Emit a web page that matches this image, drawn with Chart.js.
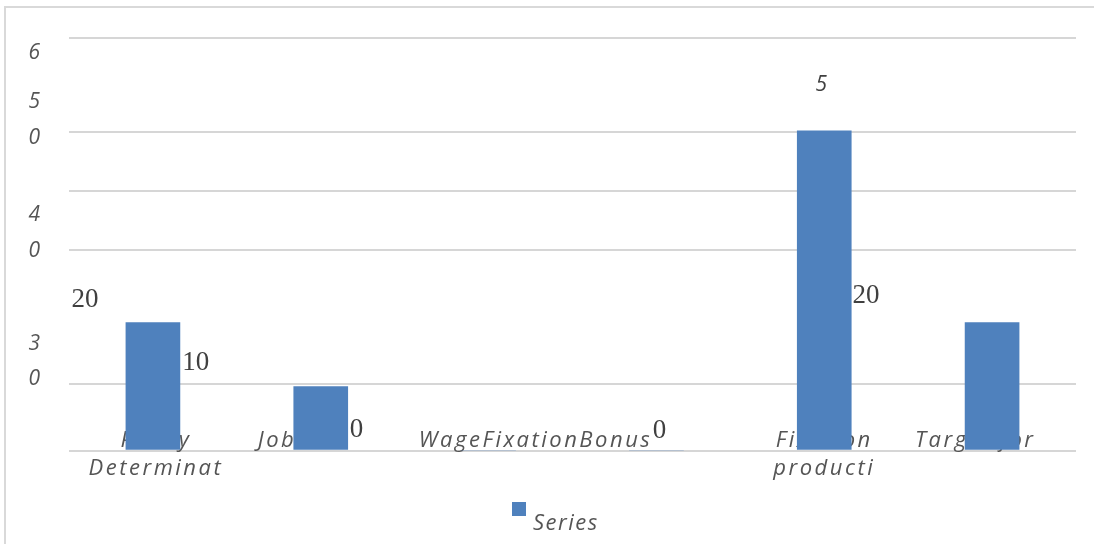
<!DOCTYPE html>
<html>
<head>
<meta charset="utf-8">
<script src="https://cdn.jsdelivr.net/npm/chart.js@4.4.0/dist/chart.umd.min.js"></script>
<style>
    html, body { margin: 0; padding: 0; background: #fff; }
    #frame { position: absolute; left: 4px; top: 6px; width: 1200px; height: 600px;
             border-left: 2px solid #d9d9d9; border-top: 2px solid #d9d9d9; }
    #wrap { position: absolute; left: 0; top: 0; width: 1094px; height: 544px; }
</style>
</head>
<body>
<div id="frame"></div>
<div id="wrap"><canvas id="chart"></canvas></div>
<script>
// categories and the single series
var categories = [['Policy', 'Determinat'], ['JobRole'], ['WageFixationBonus'], [''], ['Fixation', 'producti'], ['Target for']];
var seriesName = 'Series';
var seriesValues = [20, 10, 0, 0, 50, 20];

// y axis: where the grid lines sit, and the (wrapped) tick labels
var yMax = 64.5;
var gridValues = [0, 10.35, 31.35, 40.6, 49.85, 64.5];
var yTickLabels = [['3', '0'], ['4', '0'], ['5', '0'], ['6']];
var yTickValues = [13.9, 34.0, 51.7, 62.2];

var HAND = "'Open Sans', 'DejaVu Sans', sans-serif";
var SERIF = "'Liberation Serif', 'DejaVu Serif', serif";

// label placement tweaks (px, relative to the category / bar top)
var catShift = [
    {align: 'center', dx: 3},
    {align: 'left', dx: -63},
    {align: 'center', dx: 47},
    {align: 'center', dx: 0},
    {align: 'center', dx: 0},
    {align: 'left', dx: -77}
];
var valueShift = [
    {dx: -68, dy: -23, hand: false},
    {dx: -125, dy: -24, hand: false},
    {dx: -132, dy: -21, hand: false},
    {dx: 3, dy: -20, hand: false},
    {dx: -3, dy: -46, hand: true, maxChars: 1},
    {dx: -126, dy: -27, hand: false}
];

var categoryText = {
    id: 'categoryText',
    beforeDatasetsDraw: function (chart) {
        var ctx = chart.ctx;
        var xs = chart.scales.x, ys = chart.scales.y;
        var base = ys.getPixelForValue(0) - 4;
        ctx.save();
        ctx.font = 'italic 22px ' + HAND;
        ctx.fillStyle = '#555555';
        ctx.letterSpacing = '2.5px';
        ctx.textBaseline = 'alphabetic';
        chart.data.labels.forEach(function (lines, i) {
            var s = catShift[i];
            ctx.textAlign = s.align;
            var x = xs.getPixelForValue(i) + s.dx;
            lines.forEach(function (t, k) {
                ctx.fillText(t, x, base + k * 28.5);
            });
        });
        ctx.restore();
    }
};

var valueText = {
    id: 'valueText',
    afterDatasetsDraw: function (chart) {
        var ctx = chart.ctx;
        var meta = chart.getDatasetMeta(0);
        ctx.save();
        ctx.textAlign = 'center';
        ctx.textBaseline = 'middle';
        ctx.fillStyle = '#404040';
        meta.data.forEach(function (bar, i) {
            var s = valueShift[i];
            var txt = String(chart.data.datasets[0].data[i]);
            if (s.maxChars) txt = txt.slice(0, s.maxChars);
            ctx.font = s.hand ? 'italic 21px ' + HAND : '27px ' + SERIF;
            ctx.fillText(txt, bar.x + s.dx, bar.y + s.dy);
        });
        ctx.restore();
    }
};

var seriesKey = {
    id: 'seriesKey',
    afterDraw: function (chart) {
        var ctx = chart.ctx;
        var ds = chart.data.datasets[0];
        var x = chart.width / 2 - 35;
        var y = chart.height - 42;
        ctx.save();
        ctx.fillStyle = ds.backgroundColor;
        ctx.fillRect(x, y, 14, 14);
        ctx.font = 'italic 22px ' + HAND;
        ctx.letterSpacing = '1.5px';
        ctx.fillStyle = '#555555';
        ctx.textAlign = 'left';
        ctx.textBaseline = 'alphabetic';
        ctx.fillText(ds.label, x + 21, y + 28);
        ctx.restore();
    }
};

function noEdgePadding(scale) {
    scale.paddingTop = 0;
    scale.paddingBottom = 0;
}

var ctx = document.getElementById('chart').getContext('2d');
var chart = new Chart(ctx, {
    type: 'bar',
    data: {
        labels: categories,
        datasets: [{
            label: seriesName,
            data: seriesValues,
            backgroundColor: '#4f81bd',
            barThickness: 54,
            yAxisID: 'y'
        }]
    },
    options: {
        responsive: true,
        maintainAspectRatio: false,
        animation: false,
        layout: { padding: { left: 0, right: 18, top: 38, bottom: 93.5 } },
        plugins: { legend: { display: false }, tooltip: { enabled: false } },
        scales: {
            x: { type: 'category', display: false },
            yl: {
                type: 'linear',
                position: 'left',
                min: 0,
                max: yMax,
                afterBuildTicks: function (scale) {
                    scale.ticks = yTickValues.map(function (v) { return {value: v}; });
                },
                afterFit: function (scale) { scale.width = 69; noEdgePadding(scale); },
                grid: { display: false, drawTicks: false },
                border: { display: false },
                ticks: {
                    padding: 29,
                    color: '#555555',
                    font: { family: HAND, size: 21, style: 'italic', lineHeight: 1.7 },
                    callback: function (value, index) { return yTickLabels[index]; }
                }
            },
            y: {
                type: 'linear',
                position: 'left',
                min: 0,
                max: yMax,
                afterBuildTicks: function (scale) {
                    scale.ticks = gridValues.map(function (v) { return {value: v}; });
                },
                afterFit: function (scale) { scale.width = 0; noEdgePadding(scale); },
                grid: { color: '#d6d6d6', lineWidth: 2, drawTicks: false },
                border: { display: false },
                ticks: { display: false }
            }
        }
    },
    plugins: [categoryText, valueText, seriesKey]
});
</script>
</body>
</html>
